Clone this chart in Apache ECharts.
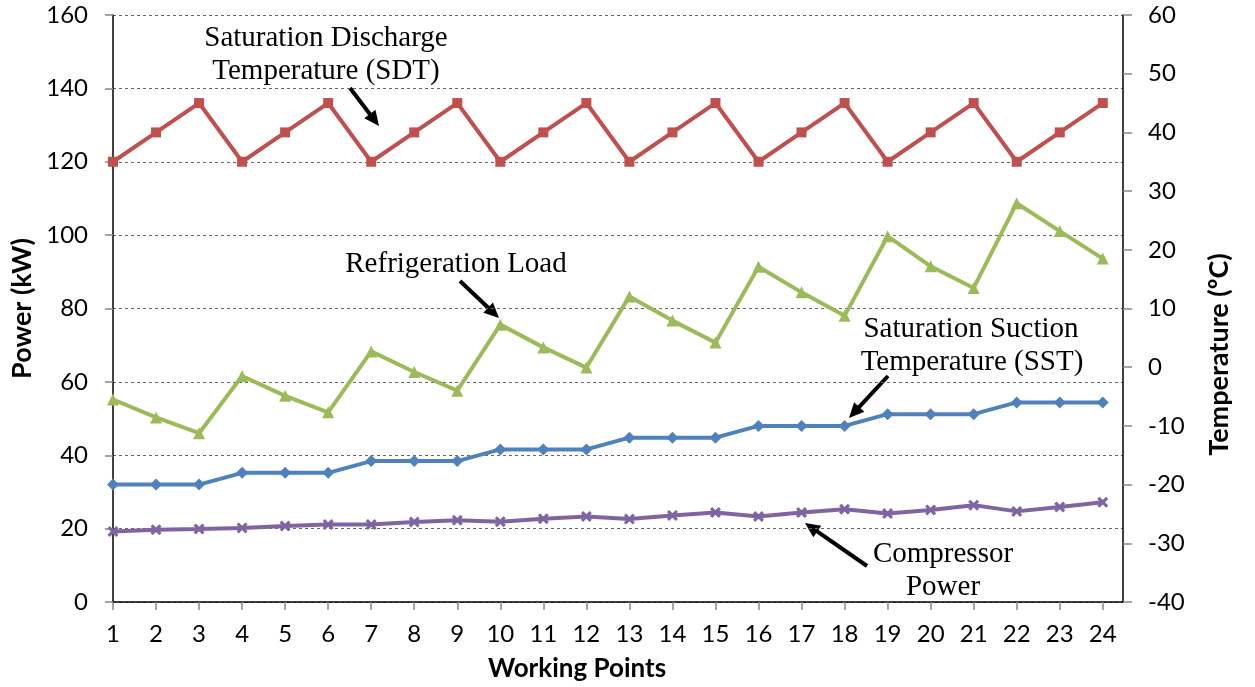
<!DOCTYPE html>
<html>
<head>
<meta charset="utf-8">
<title>Working Points</title>
<script src="https://cdn.jsdelivr.net/npm/echarts@6/dist/echarts.min.js"></script>
<style>
  html, body { margin: 0; padding: 0; background: #fff; }
  #chart { width: 1255px; height: 687px; }
</style>
</head>
<body>
<div id="chart"></div>
<script>
// Working points 1..24
const categories = [1, 2, 3, 4, 5, 6, 7, 8, 9, 10, 11, 12, 13, 14, 15, 16, 17, 18, 19, 20, 21, 22, 23, 24];

// Saturation discharge temperature, °C (right axis)
const sdt = [35, 40, 45, 35, 40, 45, 35, 40, 45, 35, 40, 45, 35, 40, 45, 35, 40, 45, 35, 40, 45, 35, 40, 45];

// Refrigeration load, kW (left axis)
const refrigerationLoad = [55.2, 50.3, 46.0, 61.6, 56.2, 51.7, 68.3, 62.7, 57.6, 75.6, 69.4, 63.9,
                           83.3, 76.7, 70.7, 91.4, 84.4, 78.0, 99.7, 91.5, 85.6, 108.7, 101.1, 93.6];

// Saturation suction temperature, °C (right axis)
const sst = [-20, -20, -20, -18, -18, -18, -16, -16, -16, -14, -14, -14,
             -12, -12, -12, -10, -10, -10, -8, -8, -8, -6, -6, -6];

// Compressor power, kW (left axis)
const compressorPower = [19.2, 19.7, 19.9, 20.2, 20.7, 21.1, 21.1, 21.8, 22.3, 21.9, 22.7, 23.3,
                         22.6, 23.6, 24.4, 23.3, 24.4, 25.3, 24.1, 25.1, 26.4, 24.7, 25.9, 27.2];

const pair = (vals) => categories.map((c, i) => [c, vals[i]]);

const xMark = 'path://M2,0 L5,3 L8,0 L10,2 L7,5 L10,8 L8,10 L5,7 L2,10 L0,8 L3,5 L0,2 Z';

const labelFont = { fontFamily: 'Lato', fontSize: 24, color: '#000' };
const titleFont = (size, padding) => ({ fontFamily: 'Lato', fontSize: size, fontWeight: 'bold', color: '#000', padding: padding });
const noteFont = 'Liberation Serif';

// Arrow from tail to tip with a filled head
function arrow(x1, y1, x2, y2) {
  const dx = x2 - x1, dy = y2 - y1;
  const len = Math.sqrt(dx * dx + dy * dy);
  const ux = dx / len, uy = dy / len;
  const headLen = 15, headW = 7;
  const bx = x2 - ux * headLen, by = y2 - uy * headLen;
  return [
    { type: 'line', shape: { x1: x1, y1: y1, x2: bx + ux * 2, y2: by + uy * 2 },
      style: { stroke: '#000', lineWidth: 4 } },
    { type: 'polygon', shape: { points: [[x2, y2], [bx - uy * headW, by + ux * headW], [bx + uy * headW, by - ux * headW]] },
      style: { fill: '#000' } }
  ];
}

// Annotation text; (x, baseline) of the line
function note(text, x, baseline) {
  return { type: 'text', x: x, y: baseline - 22,
    style: { text: text, font: '29px "' + noteFont + '"', fill: '#000', align: 'center', verticalAlign: 'top' } };
}

const chart = echarts.init(document.getElementById('chart'), null, { renderer: 'canvas' });

chart.setOption({
  backgroundColor: '#fff',
  animation: false,
  grid: { left: 113, right: 132, top: 15, bottom: 84 },
  xAxis: {
    type: 'value',
    min: 1,
    max: 24.47,
    interval: 1,
    name: 'Working Points',
    nameLocation: 'middle',
    nameGap: 42,
    nameTextStyle: titleFont(26, [12, 82, 0, 0]),
    axisLine: { onZero: false, lineStyle: { color: '#000', width: 1.5 } },
    axisTick: { show: true, length: 8, lineStyle: { color: '#888', width: 1.5 }, customValues: categories },
    axisLabel: Object.assign({ margin: 20, customValues: categories, formatter: (v) => String(v) }, labelFont),
    splitLine: { show: false }
  },
  yAxis: [
    {
      type: 'value',
      min: 0, max: 160, interval: 20,
      name: 'Power (kW)',
      nameLocation: 'middle',
      nameGap: 75,
      nameTextStyle: titleFont(27, 0),
      axisLine: { show: true, lineStyle: { color: '#000', width: 1.5 } },
      axisTick: { show: true, length: 8, lineStyle: { color: '#888', width: 1.5 } },
      axisLabel: Object.assign({ margin: 25 }, labelFont),
      splitLine: { show: true, lineStyle: { color: '#666', type: [3, 3], width: 1 } }
    },
    {
      type: 'value',
      min: -40, max: 60, interval: 10,
      position: 'right',
      name: 'Temperature (ºC)',
      nameLocation: 'middle',
      nameGap: 83,
      nameRotate: 90,
      nameTextStyle: titleFont(27, [0, 92, 0, 0]),
      axisLine: { show: true, lineStyle: { color: '#000', width: 1.5 } },
      axisTick: { show: true, length: 9, lineStyle: { color: '#888', width: 1.5 } },
      axisLabel: Object.assign({ margin: 25 }, labelFont),
      splitLine: { show: false }
    }
  ],
  series: [
    {
      name: 'Compressor Power', type: 'line', yAxisIndex: 0, data: pair(compressorPower),
      symbol: xMark, symbolSize: 11,
      lineStyle: { color: '#8064A2', width: 4 }, itemStyle: { color: '#8064A2' }
    },
    {
      name: 'Saturation Suction Temperature (SST)', type: 'line', yAxisIndex: 1, data: pair(sst),
      symbol: 'diamond', symbolSize: 12,
      lineStyle: { color: '#4F81BD', width: 4 }, itemStyle: { color: '#4F81BD' }
    },
    {
      name: 'Refrigeration Load', type: 'line', yAxisIndex: 0, data: pair(refrigerationLoad),
      symbol: 'triangle', symbolSize: 12,
      lineStyle: { color: '#9BBB59', width: 4 }, itemStyle: { color: '#9BBB59' }
    },
    {
      name: 'Saturation Discharge Temperature (SDT)', type: 'line', yAxisIndex: 1, data: pair(sdt),
      symbol: 'rect', symbolSize: 10,
      lineStyle: { color: '#C0504D', width: 4 }, itemStyle: { color: '#C0504D' }
    }
  ],
  graphic: [
    note('Saturation Discharge', 326, 46),
    note('Temperature (SDT)', 326, 79),
    ...arrow(350, 88, 379, 126),
    note('Refrigeration Load', 456, 272),
    ...arrow(460, 281, 499, 318),
    note('Saturation Suction', 971, 337),
    note('Temperature (SST)', 972, 370),
    ...arrow(888, 376, 849, 418),
    note('Compressor', 943, 562),
    note('Power', 943, 595),
    ...arrow(867, 566, 805, 523)
  ]
});
</script>
</body>
</html>
